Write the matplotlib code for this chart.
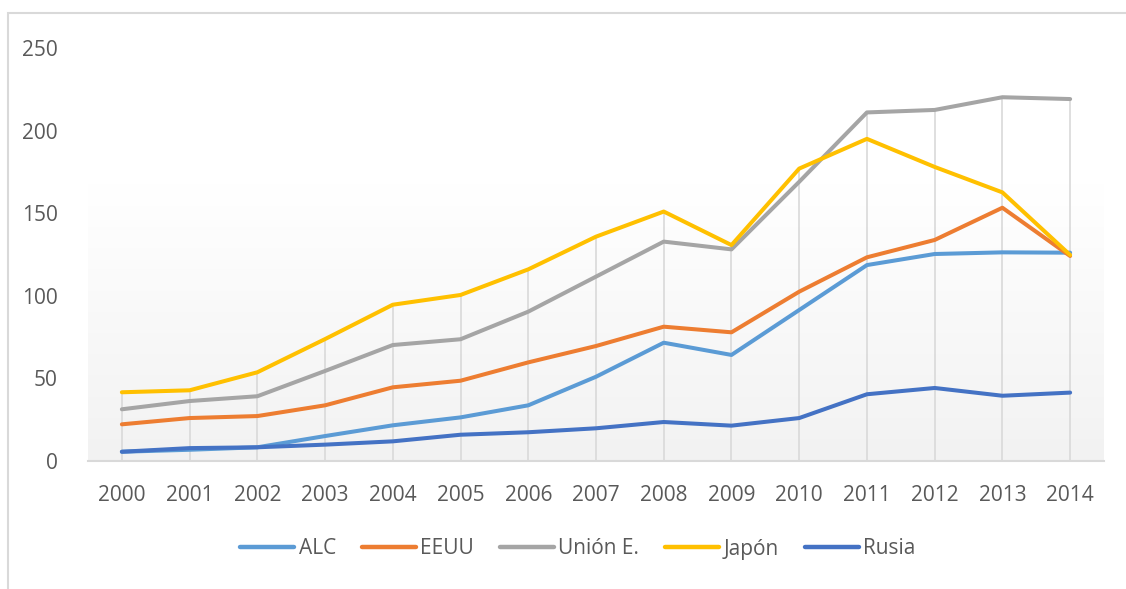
import numpy as np
import matplotlib.pyplot as plt
from matplotlib.patches import Rectangle

years = [str(y) for y in range(2000, 2015)]

alc = [5.6, 6.8, 8.3, 15.1, 21.6, 26.4, 33.7, 51.0, 71.6, 64.2, 91.4, 118.6, 125.3, 126.3, 126.1]
eeuu = [22.2, 26.0, 27.2, 33.7, 44.6, 48.6, 59.7, 69.6, 81.3, 77.9, 102.5, 123.3, 133.8, 153.3, 124.1]
union_e = [31.3, 36.3, 39.2, 54.5, 70.2, 73.7, 90.4, 111.6, 132.8, 128.1, 169.0, 211.0, 212.5, 220.2, 219.1]
japon = [41.6, 42.8, 53.7, 73.8, 94.6, 100.5, 116.0, 135.8, 151.0, 130.7, 177.0, 195.0, 178.0, 162.6, 124.7]
rusia = [5.6, 7.8, 8.3, 9.9, 11.9, 15.9, 17.4, 19.8, 23.6, 21.4, 26.0, 40.4, 44.2, 39.5, 41.4]

series = [
    ("ALC", alc, "#5B9BD5"),
    ("EEUU", eeuu, "#ED7D31"),
    ("Unión E.", union_e, "#A5A5A5"),
    ("Japón", japon, "#FFC000"),
    ("Rusia", rusia, "#4472C4"),
]

plt.rcParams['font.family'] = ['Open Sans', 'DejaVu Sans']
txt_color = "#595959"

fig = plt.figure(figsize=(11.26, 5.89), dpi=100)
# outer chart frame (runs off the right and bottom edge)
fig.patches.append(Rectangle((8 / 1126, -0.1), 1.2, 1 - 13 / 589 + 0.1,
                             transform=fig.transFigure, fill=False,
                             edgecolor="#d9d9d9", lw=1.5))

ax = fig.add_axes([88 / 1126, 128 / 589, 1016 / 1126, 413 / 589])
x = np.arange(len(years))
ax.set_xlim(-0.5, len(years) - 0.5)
ax.set_ylim(0, 250)

# plot area gradient: white in the top third, light gray at the bottom
grad = np.linspace(0, 1, 256)
shade = np.clip((grad - 0.33) / 0.67, 0, 1)
g = 1 - shade * (1 - 0xF2 / 255)
img = np.stack([g, g, g], axis=-1).reshape(256, 1, 3)
ax.imshow(img, extent=[-0.5, len(years) - 0.5, 0, 250],
          aspect='auto', zorder=0, origin='upper', interpolation='bilinear')

# drop lines from the highest point of each year
tops = np.max(np.array([s[1] for s in series]), axis=0)
ax.vlines(x, 0, tops, color="#d9d9d9", lw=1.2, zorder=1)

for name, vals_s, col in series:
    ax.plot(x, vals_s, color=col, lw=2.9, label=name, zorder=3,
            solid_capstyle='round', solid_joinstyle='round')

for side in ['top', 'right', 'left']:
    ax.spines[side].set_visible(False)
ax.spines['bottom'].set_color("#d9d9d9")
ax.spines['bottom'].set_linewidth(1.5)
ax.spines['bottom'].set_zorder(2)

ax.set_xticks(x)
ax.set_xticklabels(years)
ax.set_yticks(range(0, 251, 50))
ax.tick_params(axis='both', length=0, labelsize=15, labelcolor=txt_color)
ax.tick_params(axis='x', pad=17)
ax.tick_params(axis='y', pad=22)

leg = fig.legend(loc='center', bbox_to_anchor=(578 / 1126, 1 - 549 / 589), ncol=5,
                 frameon=False, fontsize=15, handlelength=2.6, handletextpad=0.2,
                 columnspacing=1.25, labelcolor=txt_color)
for h in leg.get_lines():
    h.set_linewidth(3.2)
    h.set_solid_capstyle('round')

fig.savefig("out.png", dpi=100)
